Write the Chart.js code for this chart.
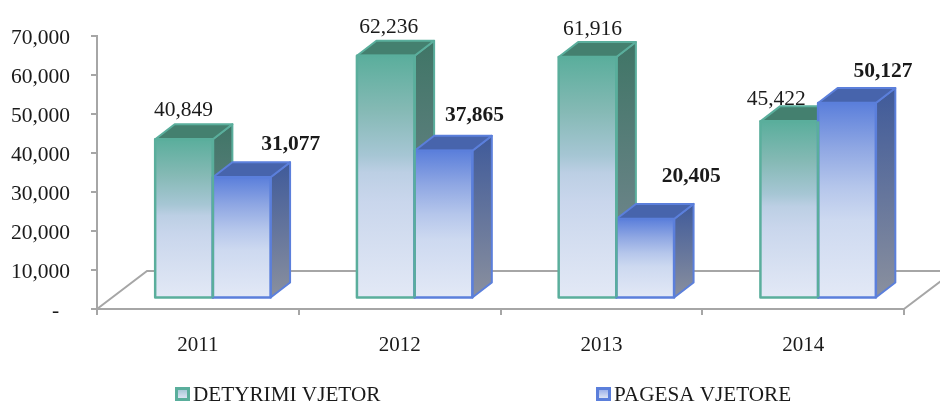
<!DOCTYPE html>
<html><head><meta charset="utf-8">
<style>html,body{margin:0;padding:0;background:#fff}canvas{display:block}</style>
<script src="https://cdn.jsdelivr.net/npm/chart.js@4"></script>
</head><body>
<canvas id="c" width="940" height="401"></canvas>
<script>
const categories = ['2011','2012','2013','2014'];
const detyrimiVjetor = [40849,62236,61916,45422];
const pagesaVjetore = [31077,37865,20405,50127];
const seriesNames = ['DETYRIMI VJETOR','PAGESA VJETORE'];

// style
const FONT = '"Liberation Serif","Times New Roman",serif';
const FS = 21.5;
const AXIS = '#a6a6a6';
const INK = '#1a1a1a';
const SHIFT = {x:15,y:-10.5}, DEPTH = {x:19.5,y:-15}, FLOOR = {x:50,y:-38};
const legendX = [175,596], legendY = 387;
const styles = [
 {line:'#5aae9c',stops:[[0,'#5aae9c'],[.22,'#84b9b4'],[.41,'#a6c6d4'],[.48,'#bccfe4'],[.6,'#c9d6ec'],[1,'#e3e9f6']],top:'#44806f',side:['#3f7566','#7d8a96']},
 {line:'#5b7fdb',stops:[[0,'#5b7fdb'],[.23,'#8fa7e3'],[.43,'#b5c6eb'],[.6,'#cdd9f0'],[1,'#e3e9f6']],top:'#4764ac',side:['#3f5a9a','#8a909e']}
];
const labelOffsets = [
 [[14.5,-39],[18,-39],[20,-38],[2,-32]],
 [[64,-43],[46,-46],[61,-53],[51,-42]]
];

function grad(ctx,y0,y1,stops){
  const g=ctx.createLinearGradient(0,y0,0,y1);
  stops.forEach(s=>g.addColorStop(s[0],s[1]));
  return g;
}
function faceFill(i){
  return c=>{
    const ch=c.chart, y=ch.scales.y;
    if(!y||!c.parsed) return styles[i].line;
    const y0=y.getPixelForValue(c.parsed.y), y1=y.getPixelForValue(0);
    if(!isFinite(y0)||!isFinite(y1)) return styles[i].line;
    return grad(ch.ctx,y0,y1,styles[i].stops);
  };
}
function poly(ctx,pts,fill,stroke){
  ctx.beginPath();pts.forEach((p,i)=>i?ctx.lineTo(p[0],p[1]):ctx.moveTo(p[0],p[1]));ctx.closePath();
  ctx.fillStyle=fill;ctx.fill();
  ctx.lineWidth=2;ctx.lineJoin='round';ctx.strokeStyle=stroke;ctx.stroke();
}
const bars3d={
  id:'bars3d',
  beforeDraw(chart){
    const {ctx,chartArea:a}=chart;
    ctx.save();ctx.strokeStyle=AXIS;ctx.lineWidth=2;
    ctx.beginPath();
    ctx.moveTo(a.left,a.bottom);ctx.lineTo(a.left+FLOOR.x,a.bottom+FLOOR.y);
    ctx.lineTo(a.right+FLOOR.x,a.bottom+FLOOR.y);ctx.lineTo(a.right,a.bottom);
    ctx.stroke();ctx.restore();
  },
  beforeDatasetsDraw(chart){
    const ctx=chart.ctx;
    ctx.save();ctx.translate(SHIFT.x,SHIFT.y);
    chart.data.datasets.forEach((ds,i)=>{
      const st=styles[i], meta=chart.getDatasetMeta(i);
      meta.data.forEach(b=>{
        const l=b.x-b.width/2,r=b.x+b.width/2,dx=DEPTH.x,dy=DEPTH.y;
        poly(ctx,[[r,b.y],[r+dx,b.y+dy],[r+dx,b.base+dy],[r,b.base]],grad(ctx,b.y+dy,b.base,[[0,st.side[0]],[1,st.side[1]]]),st.line);
        poly(ctx,[[l,b.y],[l+dx,b.y+dy],[r+dx,b.y+dy],[r,b.y]],st.top,st.line);
        b.draw(ctx);
        ctx.lineWidth=2.5;ctx.strokeStyle=st.line;
        ctx.strokeRect(l,b.y,b.width,b.base-b.y);
      });
    });
    // the edge shared by the two bars keeps the first series' colour
    chart.getDatasetMeta(0).data.forEach(b=>{
      const r=b.x+b.width/2;
      ctx.lineWidth=2.5;ctx.strokeStyle=styles[0].line;
      ctx.beginPath();ctx.moveTo(r,b.y);ctx.lineTo(r,b.base);ctx.stroke();
    });
    ctx.restore();
    // value labels
    ctx.save();ctx.textAlign='center';ctx.textBaseline='middle';ctx.fillStyle=INK;
    chart.data.datasets.forEach((ds,i)=>{
      ctx.font=(i===1?'bold ':'')+FS+'px '+FONT;
      chart.getDatasetMeta(i).data.forEach((b,j)=>{
        const o=labelOffsets[i][j];
        ctx.fillText(ds.data[j].toLocaleString('en-US'),b.x+o[0],b.y+o[1]);
      });
    });
    // legend
    ctx.textAlign='left';ctx.font='21.2px '+FONT;
    chart.data.datasets.forEach((ds,i)=>{
      const st=styles[i], x=legendX[i];
      ctx.fillStyle=st.line;ctx.fillRect(x,legendY,15,14);
      ctx.fillStyle=grad(ctx,legendY+3,legendY+11,[[0,i?'#9db2ea':'#a9c8d8'],[1,'#dbe3f4']]);
      ctx.fillRect(x+3,legendY+3,9,8);
      ctx.fillStyle=INK;ctx.fillText(ds.label,x+18,legendY+8);
    });
    ctx.restore();
    return false;
  }
};
new Chart(document.getElementById('c'),{
  type:'bar',
  plugins:[bars3d],
  data:{labels:categories,datasets:[detyrimiVjetor,pagesaVjetore].map((d,i)=>({
    label:seriesNames[i],data:d,
    backgroundColor:faceFill(i),borderWidth:0,borderSkipped:false,
    categoryPercentage:.572,barPercentage:1
  }))},
  options:{
    responsive:false,animation:false,
    layout:{padding:{left:0,right:36,top:36,bottom:0}},
    plugins:{tooltip:{enabled:false},legend:{display:false}},
    scales:{
      x:{
        afterFit(s){s.height=92;},
        grid:{drawOnChartArea:false,drawTicks:true,tickLength:6,color:AXIS,lineWidth:2},
        border:{color:AXIS,width:2},
        ticks:{color:INK,padding:18,maxRotation:0,font:{family:FONT,size:21}}
      },
      y:{
        min:0,max:70000,
        afterFit(s){s.width=97;},
        grid:{drawOnChartArea:false,drawTicks:true,tickLength:6,color:AXIS,lineWidth:2},
        border:{color:AXIS,width:2},
        ticks:{stepSize:10000,color:INK,padding:21,labelOffset:2,font:{family:FONT,size:FS},
          callback:v=>v===0?'-  ':v.toLocaleString('en-US')}
      }
    }
  }
});
</script>
</body></html>
